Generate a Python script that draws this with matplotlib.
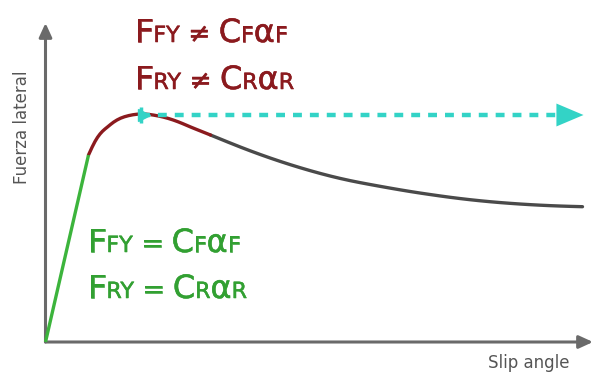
import matplotlib
matplotlib.use("Agg")
import matplotlib.pyplot as plt
from matplotlib.path import Path
from matplotlib.patches import PathPatch
import matplotlib.patheffects as pe

# ---- data (arbitrary units: slip angle, lateral force) ----
linear_slip = [0, 43]
linear_force = [0, 187]

peak_slip = [43, 47, 52, 57, 62, 68, 75, 83, 92, 100, 108, 118, 128, 137, 145, 155, 165]
peak_force = [187, 196, 205, 211, 215, 220, 224, 226.5, 228, 228, 227, 225, 222, 218.5, 215, 211, 207]

sat_slip = [165, 185, 205, 225, 245, 265, 285, 305, 325, 345, 365, 385, 405, 425, 445,
            465, 485, 505, 525, 537]
sat_force = [207, 198.8, 191.0, 183.8, 177.2, 171.2, 165.8, 161.2, 157.4, 153.8, 150.4,
             147.4, 144.6, 142.2, 140.2, 138.6, 137.3, 136.3, 135.6, 135.3]

max_force = 227
max_start = 95
max_end = 538

x_label = "Slip angle"
y_label = "Fuerza lateral"

W, H = 593, 376
fig = plt.figure(figsize=(W / 100, H / 100), dpi=100)
ax = fig.add_axes([0, 0, 1, 1])
ax.set_xlim(-45.5, W - 45.5)
ax.set_ylim(-(H - 342), 342)
ax.axis("off")


def smooth_curve(xs, ys, color, lw, z):
    """Quadratic B-spline style path through the read points (drawn by matplotlib)."""
    pts = list(zip(xs, ys))
    verts = [pts[0]]
    codes = [Path.MOVETO]
    for i in range(1, len(pts) - 1):
        mid = ((pts[i][0] + pts[i + 1][0]) / 2, (pts[i][1] + pts[i + 1][1]) / 2)
        if i == len(pts) - 2:
            mid = pts[-1]
        verts += [pts[i], mid]
        codes += [Path.CURVE3, Path.CURVE3]
    patch = PathPatch(Path(verts, codes), facecolor="none", edgecolor=color, lw=lw,
                      capstyle="round", joinstyle="round", zorder=z)
    ax.add_patch(patch)


axis_col = "#6a6a6a"
ax.annotate("", xy=(0, 319), xytext=(0, 0),
            arrowprops=dict(arrowstyle="-|>,head_length=0.7,head_width=0.32", lw=2.2,
                            color=axis_col, mutation_scale=12, shrinkA=0, shrinkB=0))
ax.annotate("", xy=(W - 45.5, 0), xytext=(0, 0),
            arrowprops=dict(arrowstyle="-|>,head_length=0.7,head_width=0.32", lw=2.2,
                            color=axis_col, mutation_scale=12, shrinkA=0, shrinkB=0))

red = "#8b1a1e"
green_line = "#3cb43c"
smooth_curve(sat_slip, sat_force, "#4a4a4a", 2.4, 3)
smooth_curve(peak_slip, peak_force, red, 2.4, 4)
ax.plot(linear_slip, linear_force, color=green_line, lw=2.4, solid_capstyle="butt", zorder=4)

teal = "#33d3c6"
ax.plot([max_start, max_end - 20], [max_force, max_force], color=teal, lw=3.2,
        linestyle=(0, (2.0, 1.8)), zorder=5)
ax.annotate("", xy=(max_end, max_force), xytext=(max_end - 21, max_force),
            arrowprops=dict(arrowstyle="-|>,head_length=1.3,head_width=0.55", lw=0,
                            color=teal, mutation_scale=15, shrinkA=0, shrinkB=0), zorder=6)
ax.plot([max_start + 3], [max_force], marker=">", ms=9, color=teal, zorder=6)
ax.plot([max_start], [max_force], marker="|", ms=12, mew=2.5, color=teal, zorder=6)

ax.text(529 / W, 1 - 368 / H, x_label, transform=fig.transFigure, ha="center",
        va="baseline", fontsize=12, color="#555555")
ax.text(22 / W, 1 - 127 / H, y_label, transform=fig.transFigure, ha="center",
        va="center", rotation=90, fontsize=12, color="#555555")

renderer = fig.canvas.get_renderer()


def rich(x_px, y_px, parts, color):
    x = x_px
    for s, size in parts:
        t = fig.text(x / W, 1 - y_px / H, s, fontsize=size, color=color,
                     va="baseline", ha="left",
                     path_effects=[pe.withStroke(linewidth=0.4, foreground=color)])
        x += t.get_window_extent(renderer).width


BIG, SUB, OP = 23, 16, 19
rich(135, 42, [("F", BIG), ("FY", SUB), (" ≠ ", OP), ("C", BIG), ("F", SUB),
               ("α", BIG), ("F", SUB)], red)
rich(135, 89, [("F", BIG), ("RY", SUB), (" ≠ ", OP), ("C", BIG), ("R", SUB),
               ("α", BIG), ("R", SUB)], red)
green_txt = "#32a032"
rich(88, 252, [("F", BIG), ("FY", SUB), (" = ", OP), ("C", BIG), ("F", SUB),
               ("α", BIG), ("F", SUB)], green_txt)
rich(88, 298, [("F", BIG), ("RY", SUB), (" = ", OP), ("C", BIG), ("R", SUB),
               ("α", BIG), ("R", SUB)], green_txt)

fig.savefig("out.png", dpi=100)
